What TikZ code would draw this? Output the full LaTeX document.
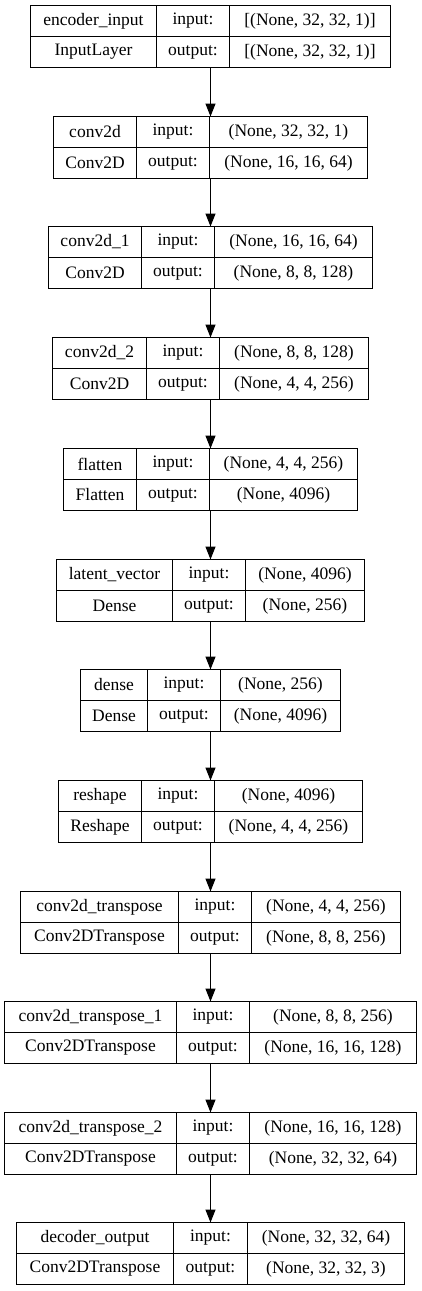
\documentclass[tikz,border=0pt]{standalone}
\usepackage{fontspec}
\setmainfont{Liberation Serif}
\usepackage{tikz}
\usetikzlibrary{arrows.meta,positioning,fit}

\begin{document}
\begin{tikzpicture}[
    x=1pt, y=-1pt,
    font=\fontsize{17.5}{21}\selectfont,
    cell/.style={draw, line width=1.2pt, anchor=north west, outer sep=0pt,
      inner sep=0pt, minimum height=31pt},
    layer/.style={inner sep=0pt, outer sep=0pt},
    arr/.style={-{Triangle[length=13pt,width=10pt]}, line width=1.2pt},
  ]
    \useasboundingbox (0,0) rectangle (421,1291);

    % --- encoder ---
    \node[cell, minimum width=126pt] (inp-n) at (30.5,5.5) {encoder\_input};
    \node[cell, minimum width=73pt, right=0pt of inp-n] (inp-i) {input:};
    \node[cell, minimum width=161pt, right=0pt of inp-i] (inp-v) {[(None, 32, 32, 1)]};
    \node[cell, minimum width=126pt, below=0pt of inp-n] (inp-c) {InputLayer};
    \node[cell, minimum width=73pt, below=0pt of inp-i] (inp-o) {output:};
    \node[cell, minimum width=161pt, below=0pt of inp-v] (inp-w) {[(None, 32, 32, 1)]};
    \node[layer, fit=(inp-n)(inp-w)] (inp) {};

    \node[cell, minimum width=83pt] (c1-n) at (53.5,116.5) {conv2d};
    \node[cell, minimum width=73pt, right=0pt of c1-n] (c1-i) {input:};
    \node[cell, minimum width=158pt, right=0pt of c1-i] (c1-v) {(None, 32, 32, 1)};
    \node[cell, minimum width=83pt, below=0pt of c1-n] (c1-c) {Conv2D};
    \node[cell, minimum width=73pt, below=0pt of c1-i] (c1-o) {output:};
    \node[cell, minimum width=158pt, below=0pt of c1-v] (c1-w) {(None, 16, 16, 64)};
    \node[layer, fit=(c1-n)(c1-w)] (c1) {};

    \node[cell, minimum width=93pt] (c2-n) at (48.5,226.5) {conv2d\_1};
    \node[cell, minimum width=73pt, right=0pt of c2-n] (c2-i) {input:};
    \node[cell, minimum width=158pt, right=0pt of c2-i] (c2-v) {(None, 16, 16, 64)};
    \node[cell, minimum width=93pt, below=0pt of c2-n] (c2-c) {Conv2D};
    \node[cell, minimum width=73pt, below=0pt of c2-i] (c2-o) {output:};
    \node[cell, minimum width=158pt, below=0pt of c2-v] (c2-w) {(None, 8, 8, 128)};
    \node[layer, fit=(c2-n)(c2-w)] (c2) {};

    \node[cell, minimum width=94pt] (c3-n) at (52.5,337.5) {conv2d\_2};
    \node[cell, minimum width=73pt, right=0pt of c3-n] (c3-i) {input:};
    \node[cell, minimum width=149pt, right=0pt of c3-i] (c3-v) {(None, 8, 8, 128)};
    \node[cell, minimum width=94pt, below=0pt of c3-n] (c3-c) {Conv2D};
    \node[cell, minimum width=73pt, below=0pt of c3-i] (c3-o) {output:};
    \node[cell, minimum width=149pt, below=0pt of c3-v] (c3-w) {(None, 4, 4, 256)};
    \node[layer, fit=(c3-n)(c3-w)] (c3) {};

    \node[cell, minimum width=73pt] (flat-n) at (63.5,448.5) {flatten};
    \node[cell, minimum width=73pt, right=0pt of flat-n] (flat-i) {input:};
    \node[cell, minimum width=148pt, right=0pt of flat-i] (flat-v) {(None, 4, 4, 256)};
    \node[cell, minimum width=73pt, below=0pt of flat-n] (flat-c) {Flatten};
    \node[cell, minimum width=73pt, below=0pt of flat-i] (flat-o) {output:};
    \node[cell, minimum width=148pt, below=0pt of flat-v] (flat-w) {(None, 4096)};
    \node[layer, fit=(flat-n)(flat-w)] (flat) {};

    \node[cell, minimum width=116pt] (lat-n) at (56.5,559.5) {latent\_vector};
    \node[cell, minimum width=73pt, right=0pt of lat-n] (lat-i) {input:};
    \node[cell, minimum width=119pt, right=0pt of lat-i] (lat-v) {(None, 4096)};
    \node[cell, minimum width=116pt, below=0pt of lat-n] (lat-c) {Dense};
    \node[cell, minimum width=73pt, below=0pt of lat-i] (lat-o) {output:};
    \node[cell, minimum width=119pt, below=0pt of lat-v] (lat-w) {(None, 256)};
    \node[layer, fit=(lat-n)(lat-w)] (lat) {};

    % --- decoder ---
    \node[cell, minimum width=67pt] (dns-n) at (80.5,669.5) {dense};
    \node[cell, minimum width=73pt, right=0pt of dns-n] (dns-i) {input:};
    \node[cell, minimum width=120pt, right=0pt of dns-i] (dns-v) {(None, 256)};
    \node[cell, minimum width=67pt, below=0pt of dns-n] (dns-c) {Dense};
    \node[cell, minimum width=73pt, below=0pt of dns-i] (dns-o) {output:};
    \node[cell, minimum width=120pt, below=0pt of dns-v] (dns-w) {(None, 4096)};
    \node[layer, fit=(dns-n)(dns-w)] (dns) {};

    \node[cell, minimum width=83pt] (resh-n) at (58.5,780.5) {reshape};
    \node[cell, minimum width=73pt, right=0pt of resh-n] (resh-i) {input:};
    \node[cell, minimum width=148pt, right=0pt of resh-i] (resh-v) {(None, 4096)};
    \node[cell, minimum width=83pt, below=0pt of resh-n] (resh-c) {Reshape};
    \node[cell, minimum width=73pt, below=0pt of resh-i] (resh-o) {output:};
    \node[cell, minimum width=148pt, below=0pt of resh-v] (resh-w) {(None, 4, 4, 256)};
    \node[layer, fit=(resh-n)(resh-w)] (resh) {};

    \node[cell, minimum width=158pt] (ct0-n) at (20.5,891.5) {conv2d\_transpose};
    \node[cell, minimum width=73pt, right=0pt of ct0-n] (ct0-i) {input:};
    \node[cell, minimum width=149pt, right=0pt of ct0-i] (ct0-v) {(None, 4, 4, 256)};
    \node[cell, minimum width=158pt, below=0pt of ct0-n] (ct0-c) {Conv2DTranspose};
    \node[cell, minimum width=73pt, below=0pt of ct0-i] (ct0-o) {output:};
    \node[cell, minimum width=149pt, below=0pt of ct0-v] (ct0-w) {(None, 8, 8, 256)};
    \node[layer, fit=(ct0-n)(ct0-w)] (ct0) {};

    \node[cell, minimum width=172pt] (ct1-n) at (4.5,1001.5) {conv2d\_transpose\_1};
    \node[cell, minimum width=73pt, right=0pt of ct1-n] (ct1-i) {input:};
    \node[cell, minimum width=167pt, right=0pt of ct1-i] (ct1-v) {(None, 8, 8, 256)};
    \node[cell, minimum width=172pt, below=0pt of ct1-n] (ct1-c) {Conv2DTranspose};
    \node[cell, minimum width=73pt, below=0pt of ct1-i] (ct1-o) {output:};
    \node[cell, minimum width=167pt, below=0pt of ct1-v] (ct1-w) {(None, 16, 16, 128)};
    \node[layer, fit=(ct1-n)(ct1-w)] (ct1) {};

    \node[cell, minimum width=172pt] (ct2-n) at (4.5,1112.5) {conv2d\_transpose\_2};
    \node[cell, minimum width=73pt, right=0pt of ct2-n] (ct2-i) {input:};
    \node[cell, minimum width=167pt, right=0pt of ct2-i] (ct2-v) {(None, 16, 16, 128)};
    \node[cell, minimum width=172pt, below=0pt of ct2-n] (ct2-c) {Conv2DTranspose};
    \node[cell, minimum width=73pt, below=0pt of ct2-i] (ct2-o) {output:};
    \node[cell, minimum width=167pt, below=0pt of ct2-v] (ct2-w) {(None, 32, 32, 64)};
    \node[layer, fit=(ct2-n)(ct2-w)] (ct2) {};

    \node[cell, minimum width=157pt] (outl-n) at (16.5,1222.5) {decoder\_output};
    \node[cell, minimum width=74pt, right=0pt of outl-n] (outl-i) {input:};
    \node[cell, minimum width=157pt, right=0pt of outl-i] (outl-v) {(None, 32, 32, 64)};
    \node[cell, minimum width=157pt, below=0pt of outl-n] (outl-c) {Conv2DTranspose};
    \node[cell, minimum width=74pt, below=0pt of outl-i] (outl-o) {output:};
    \node[cell, minimum width=157pt, below=0pt of outl-v] (outl-w) {(None, 32, 32, 3)};
    \node[layer, fit=(outl-n)(outl-w)] (outl) {};

    % --- arrows ---
    \draw[arr] (inp.south) -- (inp.south |- c1.north);
    \draw[arr] (c1.south) -- (c1.south |- c2.north);
    \draw[arr] (c2.south) -- (c2.south |- c3.north);
    \draw[arr] (c3.south) -- (c3.south |- flat.north);
    \draw[arr] (flat.south) -- (flat.south |- lat.north);
    \draw[arr] (lat.south) -- (lat.south |- dns.north);
    \draw[arr] (dns.south) -- (dns.south |- resh.north);
    \draw[arr] (resh.south) -- (resh.south |- ct0.north);
    \draw[arr] (ct0.south) -- (ct0.south |- ct1.north);
    \draw[arr] (ct1.south) -- (ct1.south |- ct2.north);
    \draw[arr] (ct2.south) -- (ct2.south |- outl.north);
  \end{tikzpicture}
\end{document}
